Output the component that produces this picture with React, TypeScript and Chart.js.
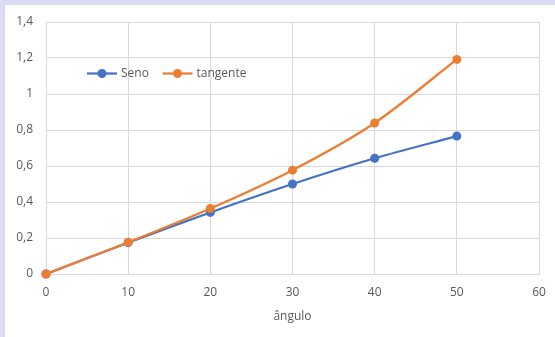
import React, { useEffect, useRef } from "react";
import { Chart, registerables } from "chart.js";

Chart.register(...registerables);

const angles = [0, 10, 20, 30, 40, 50];
const senoValues = [0, 0.174, 0.342, 0.5, 0.643, 0.766];
const tangenteValues = [0, 0.176, 0.364, 0.577, 0.839, 1.192];
const seriesNames = ["Seno", "tangente"];
const xTitle = "ângulo";

const FONT = "'Open Sans', 'Noto Sans', sans-serif";
const TEXT = "#595959";
const GRID = "#d9d9d9";

const legendPlugin = {
  id: "insideLegend",
  afterDraw(chart: any) {
    const ctx = chart.ctx;
    const items = [
      { x: 82, y: 68.5 },
      { x: 157.5, y: 68.5 },
    ];
    ctx.save();
    chart.data.datasets.forEach((ds: any, i: number) => {
      const p = items[i];
      ctx.strokeStyle = ds.borderColor;
      ctx.lineWidth = 2.25;
      ctx.beginPath();
      ctx.moveTo(p.x, p.y);
      ctx.lineTo(p.x + 30, p.y);
      ctx.stroke();
      ctx.fillStyle = ds.borderColor;
      ctx.beginPath();
      ctx.arc(p.x + 15, p.y, 4.5, 0, Math.PI * 2);
      ctx.fill();
      ctx.fillStyle = TEXT;
      ctx.font = `12px ${FONT}`;
      ctx.textBaseline = "middle";
      ctx.textAlign = "left";
      ctx.fillText(ds.label, p.x + 34, p.y);
    });
    ctx.restore();
  },
};

export default function App() {
  const ref = useRef<HTMLCanvasElement>(null);
  useEffect(() => {
    const toPts = (vals: number[]) => angles.map((a, i) => ({ x: a, y: vals[i] }));
    const chart = new Chart(ref.current!, {
      type: "line",
      data: {
        datasets: [
          {
            label: seriesNames[0],
            data: toPts(senoValues),
            borderColor: "#4472C4",
            backgroundColor: "#4472C4",
            borderWidth: 2.25,
            pointRadius: 4.5,
            pointBorderWidth: 0,
            tension: 0.3,
            order: 2,
            clip: false,
          },
          {
            label: seriesNames[1],
            data: toPts(tangenteValues),
            borderColor: "#ED7D31",
            backgroundColor: "#ED7D31",
            borderWidth: 2.25,
            pointRadius: 4.5,
            pointBorderWidth: 0,
            tension: 0.3,
            order: 1,
            clip: false,
          },
        ],
      },
      options: {
        animation: false,
        responsive: false,
        maintainAspectRatio: false,
        layout: { padding: { left: 0, right: 16, top: 17, bottom: 0 } },
        plugins: { legend: { display: false }, tooltip: { enabled: false } },
        scales: {
          x: {
            type: "linear",
            min: 0,
            max: 60,
            ticks: {
              stepSize: 10,
              color: TEXT,
              font: { family: FONT, size: 12 },
              padding: 11,
            },
            grid: { color: GRID, drawTicks: false },
            border: { color: GRID },
            title: {
              display: true,
              text: xTitle,
              color: TEXT,
              font: { family: FONT, size: 12 },
              padding: { top: 4, bottom: 13 },
            },
            afterFit(scale: any) {
              scale.height = 63;
              scale.paddingLeft = 0;
              scale.paddingRight = 0;
            },
          },
          y: {
            min: 0,
            max: 1.4,
            ticks: {
              stepSize: 0.2,
              color: TEXT,
              font: { family: FONT, size: 12 },
              padding: 13,
              callback: (v: any) => String(Math.round(Number(v) * 10) / 10).replace(".", ","),
            },
            grid: { color: GRID, drawTicks: false },
            border: { color: GRID },
            afterFit(scale: any) {
              scale.width = 41;
              scale.paddingTop = 0;
              scale.paddingBottom = 0;
            },
          },
        },
      },
      plugins: [legendPlugin],
    } as any);
    return () => chart.destroy();
  }, []);

  return (
    <div
      style={{
        position: "fixed",
        left: 0,
        top: 0,
        width: 555,
        height: 337,
        background: "#dcdcf7",
      }}
    >
      <div
        style={{
          position: "absolute",
          left: 5,
          top: 5,
          width: 550,
          height: 332,
          background: "#ffffff",
          boxShadow: "0 0 0 1px #d9d9d9",
        }}
      >
        <canvas ref={ref} width={550} height={332} style={{ display: "block" }} />
      </div>
    </div>
  );
}
